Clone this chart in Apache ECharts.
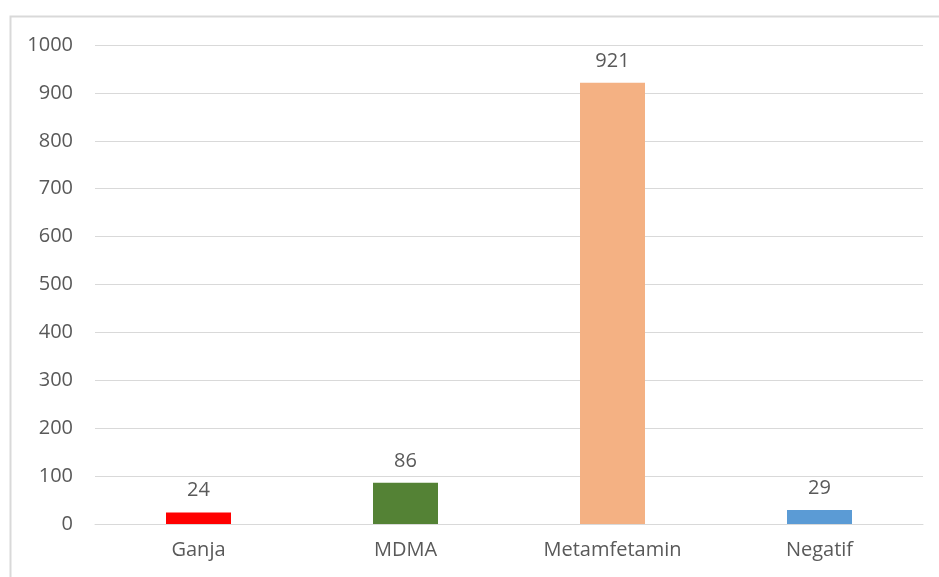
<!DOCTYPE html>
<html>
<head>
<meta charset="utf-8">
<script src="https://cdn.jsdelivr.net/npm/echarts@6/dist/echarts.min.js"></script>
<style>
  html, body { margin: 0; padding: 0; background: #fff; }
  #chart { width: 939px; height: 577px; }
</style>
</head>
<body>
<div id="chart"></div>
<script>
var categories = ["Ganja", "MDMA", "Metamfetamin", "Negatif"];
var values = [24, 86, 921, 29];
var yTicks = [0, 100, 200, 300, 400, 500, 600, 700, 800, 900, 1000];

var barColors = ["#ff0000", "#548235", "#f4b183", "#5b9bd5"];
var textColor = "#595959";
var fontFamily = "'Open Sans', 'Liberation Sans', sans-serif";

var chart = echarts.init(document.getElementById("chart"));

chart.setOption({
  animation: false,
  graphic: [
    {
      type: "rect",
      shape: { x: 10.5, y: 16.5, width: 1000, height: 1000 },
      style: { fill: "none", stroke: "#d9d9d9", lineWidth: 2 },
      silent: true
    }
  ],
  grid: { left: 95, right: 16, top: 45, bottom: 53 },
  xAxis: {
    type: "category",
    data: categories,
    axisLine: { lineStyle: { color: "#d9d9d9", width: 1 } },
    axisTick: { show: false },
    axisLabel: { color: textColor, fontSize: 20, fontFamily: fontFamily, margin: 16 }
  },
  yAxis: {
    type: "value",
    min: yTicks[0],
    max: yTicks[yTicks.length - 1],
    interval: yTicks[1] - yTicks[0],
    axisLine: { show: false },
    axisTick: { show: false },
    splitLine: { lineStyle: { color: "#d9d9d9", width: 1 } },
    axisLabel: {
      color: textColor,
      fontSize: 20,
      fontFamily: fontFamily,
      margin: 22,
      formatter: function (v) { return String(v); }
    }
  },
  series: [
    {
      type: "bar",
      barWidth: "31.4%",
      data: values.map(function (v, i) {
        return { value: v, itemStyle: { color: barColors[i] } };
      }),
      label: {
        show: true,
        position: "top",
        distance: 12,
        color: textColor,
        fontSize: 20,
        fontFamily: fontFamily
      }
    }
  ]
});
</script>
</body>
</html>
